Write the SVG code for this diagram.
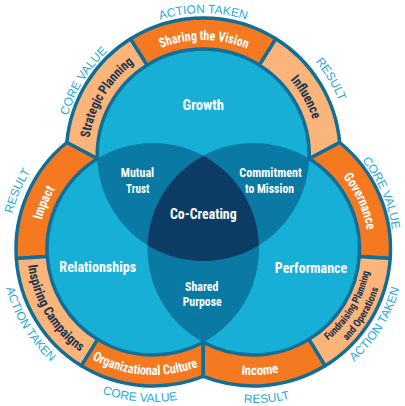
<svg xmlns="http://www.w3.org/2000/svg" width="405" height="406" viewBox="0 0 405 406">
<style>
.disk{fill:#17afd6}
.lens{fill:#0a79a3}
.core{fill:#0c3c63}
.seg{stroke:#116e97;stroke-width:3.5;stroke-linejoin:round}
.or{fill:#f47920}
.lo{fill:#fbb479}
.lbl{font-family:"Liberation Sans Narrow","Arial Narrow","Roboto Condensed","DejaVu Sans Condensed",sans-serif;font-weight:bold;text-anchor:middle}
.w{fill:#ffffff}
.d{fill:#1b3350}
.big{font-size:15px}
.mid{font-size:13px}
.ring{font-size:13.5px}
.small{font-size:10.5px}
.out{font-family:"Liberation Sans",Arial,sans-serif;font-size:12px;fill:#27aadb;text-anchor:middle}
</style>
<defs>
<path id="cw115" d="M-115,0A115,115 0 0 1 115,0"/>
<path id="cw140" d="M-140,0A140,140 0 0 1 140,0"/>
<path id="cw141" d="M-141,0A141,141 0 0 1 141,0"/>
<path id="cw142" d="M-142,0A142,142 0 0 1 142,0"/>
<path id="cw145" d="M-145,0A145,145 0 0 1 145,0"/>
<path id="cw146" d="M-146,0A146,146 0 0 1 146,0"/>
<path id="ccw118" d="M-118,0A118,118 0 0 0 118,0"/>
<path id="ccw126" d="M-126,0A126,126 0 0 0 126,0"/>
<path id="ccw131" d="M-131,0A131,131 0 0 0 131,0"/>
<path id="ccw151" d="M-151,0A151,151 0 0 0 151,0"/>
<path id="ccw152" d="M-152,0A152,152 0 0 0 152,0"/>
<path id="ccw153" d="M-153,0A153,153 0 0 0 153,0"/>
<path id="ccw154" d="M-154,0A154,154 0 0 0 154,0"/>
</defs>

<g id="growth">
<circle class="disk" cx="203.25" cy="155" r="106"/>
<text class="lbl w big" x="203.3" y="110" textLength="41.5" lengthAdjust="spacingAndGlyphs">Growth</text>
</g>
<g id="relationships">
<circle class="disk" cx="153" cy="249" r="106"/>
<text class="lbl w big" x="97.7" y="271.5" textLength="76.7" lengthAdjust="spacingAndGlyphs">Relationships</text>
</g>
<g id="performance">
<circle class="disk" cx="253.5" cy="249" r="106"/>
<text class="lbl w big" x="311" y="273" textLength="72.3" lengthAdjust="spacingAndGlyphs">Performance</text>
</g>

<g id="mutual-trust">
<path class="lens" d="M97.32,158.81A106,106 0 0 1 258.94,245.19A106,106 0 0 1 97.32,158.81Z"/>
<text class="lbl w mid" x="137.5" y="176.8" textLength="33.3" lengthAdjust="spacingAndGlyphs">Mutual</text>
<text class="lbl w mid" x="137.7" y="192.7" textLength="23.3" lengthAdjust="spacingAndGlyphs">Trust</text>
</g>
<g id="commitment-to-mission">
<path class="lens" d="M309.18,158.81A106,106 0 0 0 147.56,245.19A106,106 0 0 0 309.18,158.81Z"/>
<text class="lbl w mid" x="270.5" y="176.8" textLength="62.4" lengthAdjust="spacingAndGlyphs">Commitment</text>
<text class="lbl w mid" x="269.5" y="192.7" textLength="49" lengthAdjust="spacingAndGlyphs">to Mission</text>
</g>
<g id="shared-purpose">
<path class="lens" d="M203.25,155.67A106,106 0 0 0 203.25,342.33A106,106 0 0 0 203.25,155.67Z"/>
<text class="lbl w mid" x="201.7" y="290.5" textLength="33.3" lengthAdjust="spacingAndGlyphs">Shared</text>
<text class="lbl w mid" x="202.2" y="305.5" textLength="39" lengthAdjust="spacingAndGlyphs">Purpose</text>
</g>
<g id="co-creating">
<path class="core" d="M203.25,155.67A106,106 0 0 0 147.56,245.19A106,106 0 0 0 258.94,245.19A106,106 0 0 0 203.25,155.67Z"/>
<text class="lbl w big" x="203.3" y="218.8" textLength="66.7" lengthAdjust="spacingAndGlyphs">Co-Creating</text>
</g>

<g id="strategic-planning">
<path class="seg lo" d="M97.32,158.81L66.82,142.5A137,137 0 0 1 130.65,38.82L147.08,65.11A106,106 0 0 0 97.32,158.81Z"/>
<g transform="translate(203.25,155) rotate(-59.3)"><text class="lbl d ring"><textPath href="#cw115" startOffset="50%" textLength="89" lengthAdjust="spacingAndGlyphs">Strategic Planning</textPath></text></g>
</g>
<g id="sharing-the-vision">
<path class="seg or" d="M147.08,65.11L130.65,38.82A137,137 0 0 1 275.85,38.82L259.42,65.11A106,106 0 0 0 147.08,65.11Z"/>
<g transform="translate(203.25,155) rotate(0.4)"><text class="lbl w ring"><textPath href="#cw115" startOffset="50%" textLength="88" lengthAdjust="spacingAndGlyphs">Sharing the Vision</textPath></text></g>
</g>
<g id="influence">
<path class="seg lo" d="M259.42,65.11L275.85,38.82A137,137 0 0 1 339.68,142.5L309.18,158.81A106,106 0 0 0 259.42,65.11Z"/>
<g transform="translate(203.25,155) rotate(60.6)"><text class="lbl d ring"><textPath href="#cw115" startOffset="50%" textLength="46" lengthAdjust="spacingAndGlyphs">Influence</textPath></text></g>
</g>
<g id="impact">
<path class="seg or" d="M97.32,158.81L66.82,142.5A137,137 0 0 0 16.33,258.56L47.26,256.39A106,106 0 0 1 97.32,158.81Z"/>
<g transform="translate(153,249) rotate(-67)"><text class="lbl w ring"><textPath href="#cw115" startOffset="50%" textLength="34" lengthAdjust="spacingAndGlyphs">Impact</textPath></text></g>
</g>
<g id="inspiring-campaigns">
<path class="seg lo" d="M47.26,256.39L16.33,258.56A137,137 0 0 0 81.42,365.81L97.61,339.38A106,106 0 0 1 47.26,256.39Z"/>
<g transform="translate(153,249) rotate(59)"><text class="lbl d ring"><textPath href="#ccw126" startOffset="50%" textLength="104" lengthAdjust="spacingAndGlyphs">Inspiring Campaigns</textPath></text></g>
</g>
<g id="organizational-culture">
<path class="seg or" d="M97.61,339.38L81.42,365.81A137,137 0 0 0 203.25,376.45L203.25,342.33A106,106 0 0 1 97.61,339.38Z"/>
<g transform="translate(153,249) rotate(4)"><text class="lbl w ring"><textPath href="#ccw126" startOffset="50%" textLength="110" lengthAdjust="spacingAndGlyphs">Organizational Culture</textPath></text></g>
</g>
<g id="governance">
<path class="seg or" d="M309.18,158.81L339.68,142.5A137,137 0 0 1 390.17,258.56L359.24,256.39A106,106 0 0 0 309.18,158.81Z"/>
<g transform="translate(253.5,249) rotate(65.8)"><text class="lbl w ring"><textPath href="#cw115" startOffset="50%" textLength="59" lengthAdjust="spacingAndGlyphs">Governance</textPath></text></g>
</g>
<g id="fundraising-planning">
<path class="seg lo" d="M359.24,256.39L390.17,258.56A137,137 0 0 1 325.08,365.81L308.89,339.38A106,106 0 0 0 359.24,256.39Z"/>
<g transform="translate(253.5,249) rotate(-59)"><text class="lbl d small"><textPath href="#ccw118" startOffset="50%" textLength="82" lengthAdjust="spacingAndGlyphs">Fundraising Planning</textPath></text><text class="lbl d small"><textPath href="#ccw131" startOffset="50%" textLength="62" lengthAdjust="spacingAndGlyphs">and Operations</textPath></text></g>
</g>
<g id="income">
<path class="seg or" d="M308.89,339.38L325.08,365.81A137,137 0 0 1 203.25,376.45L203.25,342.33A106,106 0 0 0 308.89,339.38Z"/>
<g transform="translate(253.5,249) rotate(-3)"><text class="lbl w ring"><textPath href="#ccw126" startOffset="50%" textLength="38" lengthAdjust="spacingAndGlyphs">Income</textPath></text></g>
</g>

<g id="outer-labels">
<g transform="translate(203.25,155)">
<text class="out"><textPath href="#cw142" startOffset="50%">ACTION TAKEN</textPath></text>
<g transform="rotate(-58.3)"><text class="out"><textPath href="#cw141" startOffset="50%">CORE VALUE</textPath></text></g>
<g transform="rotate(59.3)"><text class="out"><textPath href="#cw146" startOffset="50%">RESULT</textPath></text></g>
</g>
<g transform="translate(153,249)">
<g transform="rotate(-66.8)"><text class="out"><textPath href="#cw145" startOffset="50%">RESULT</textPath></text></g>
<g transform="rotate(58.6)"><text class="out"><textPath href="#ccw152" startOffset="50%">ACTION TAKEN</textPath></text></g>
<g transform="rotate(5)"><text class="out"><textPath href="#ccw153" startOffset="50%">CORE VALUE</textPath></text></g>
</g>
<g transform="translate(253.5,249)">
<g transform="rotate(66.4)"><text class="out"><textPath href="#cw140" startOffset="50%">CORE VALUE</textPath></text></g>
<g transform="rotate(-58.3)"><text class="out"><textPath href="#ccw151" startOffset="50%">ACTION TAKEN</textPath></text></g>
<g transform="rotate(-5)"><text class="out"><textPath href="#ccw154" startOffset="50%">RESULT</textPath></text></g>
</g>
</g>
<g id="connectors"/>
</svg>
